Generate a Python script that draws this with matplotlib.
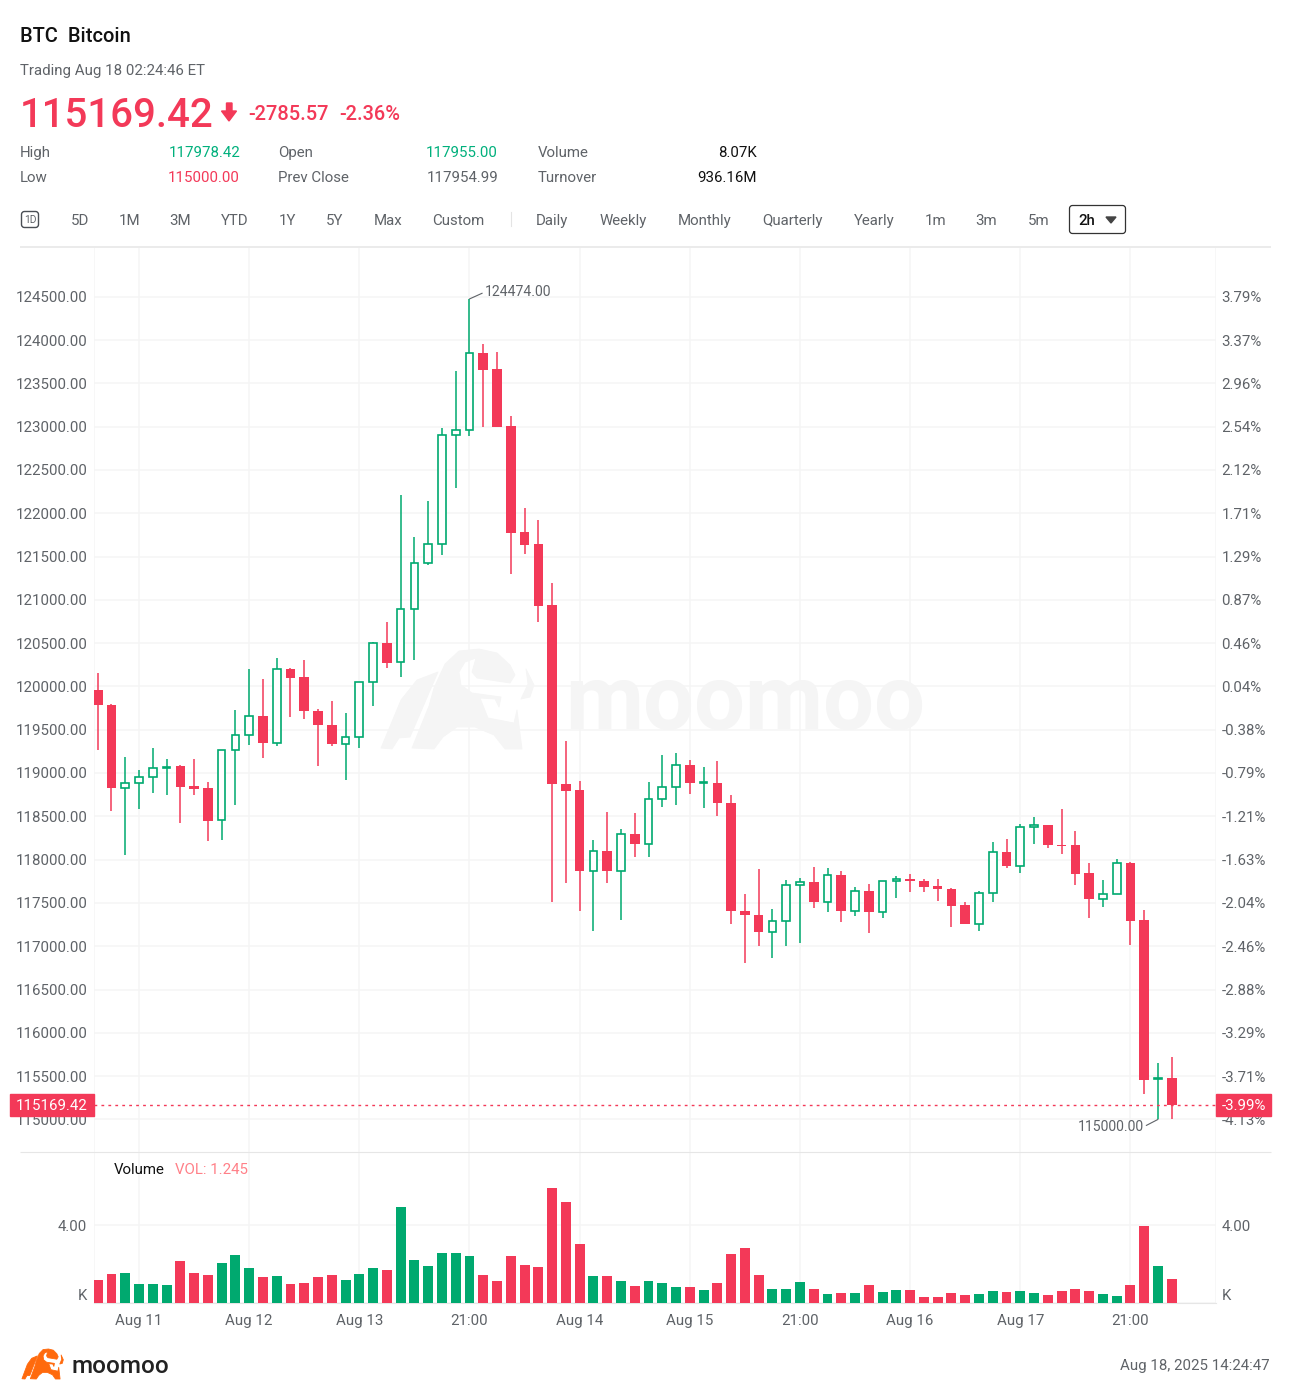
import numpy as np
import matplotlib
matplotlib.use("Agg")
import matplotlib.pyplot as plt
from matplotlib.patches import FancyBboxPatch, Polygon
from matplotlib.transforms import Affine2D

plt.rcParams["font.family"] = ["Roboto", "DejaVu Sans"]

W, H = 1291, 1398
RED = "#F33958"
GREEN = "#00A96F"
GREY = "#5F6368"
GRID = "#F5F5F5"

# one candle per 2h
opens = [119960, 119781, 118828, 118890, 118952, 119057, 119076, 118851, 118823, 118458,
         119270, 119443, 119654, 119347, 120201, 120108, 119720, 119558, 119339, 119417,
         120051, 120501, 120281, 120894, 121424, 121644, 122902, 122955, 123851, 123667,
         123009, 121778, 121648, 120943, 118878, 118808, 117870, 118101, 117870, 118298,
         118185, 118704, 118839, 119093, 118880, 118889, 118658, 117412, 117366, 117169,
         117289, 117708, 117743, 117512, 117827, 117401, 117643, 117393, 117754, 117781,
         117758, 117697, 117666, 117470, 117262, 117612, 118085, 117931, 118374, 118405,
         118171, 118163, 117847, 117547, 117605, 117966, 117300, 115466, 115482]
closes = [119780, 118828, 118890, 118952, 119057, 119072, 118843, 118817, 118450, 119270,
          119443, 119654, 119347, 120196, 120100, 119712, 119550, 119335, 119417, 120051,
          120501, 120274, 120894, 121424, 121644, 122905, 122955, 123848, 123659, 122997,
          121766, 121636, 120932, 118870, 118797, 117870, 118096, 117866, 118293, 118182,
          118704, 118839, 119088, 118880, 118892, 118650, 117401, 117358, 117162, 117289,
          117708, 117743, 117508, 117819, 117401, 117639, 117393, 117758, 117777, 117750,
          117689, 117658, 117462, 117258, 117616, 118085, 117924, 118374, 118397, 118163,
          118155, 117836, 117547, 117605, 117963, 117293, 115458, 115477, 115169.42]
highs = [120155, 119800, 119186, 119029, 119283, 119163, 119092, 119163, 118901, 119270,
         119724, 120201, 120081, 120333, 120208, 120309, 119740, 119835, 119694, 120051,
         120512, 120738, 122209, 121728, 122140, 122982, 123644, 124474, 123952, 123863,
         123128, 122055, 121924, 121193, 119373, 118912, 118228, 118546, 118358, 118539,
         118901, 119208, 119231, 119155, 119070, 119143, 118746, 117605, 117891, 117424,
         117761, 117789, 117916, 117904, 117866, 117685, 117720, 117758, 117816, 117839,
         117777, 117781, 117674, 117512, 117639, 118200, 118239, 118413, 118493, 118405,
         118586, 118331, 117963, 117761, 118009, 117978, 117420, 115654, 115724]
lows = [119260, 118566, 118051, 118589, 118770, 118750, 118427, 118743, 118212, 118227,
        118635, 119320, 119174, 119308, 119647, 119624, 119077, 119308, 118920, 119290,
        119770, 120208, 120104, 120308, 121397, 121520, 122293, 122897, 122994, 122997,
        121298, 121532, 120739, 117512, 117730, 117409, 117170, 117727, 117305, 118031,
        118031, 118604, 118627, 118759, 118601, 118508, 117262, 116809, 116999, 116867,
        116999, 117039, 117439, 117392, 117278, 117347, 117147, 117331, 117551, 117623,
        117631, 117524, 117219, 117254, 117174, 117508, 117901, 117847, 118181, 118136,
        118062, 117704, 117327, 117454, 117597, 117019, 115297, 115000, 115008]
volumes = [1.18, 1.52, 1.57, 0.99, 0.99, 0.94, 2.17, 1.54, 1.44, 2.09,
           2.48, 1.79, 1.33, 1.38, 0.99, 1.04, 1.33, 1.44, 1.21, 1.50,
           1.79, 1.73, 4.94, 2.24, 1.93, 2.58, 2.56, 2.41, 1.44, 1.13,
           2.41, 1.95, 1.85, 5.91, 5.20, 3.04, 1.42, 1.38, 1.13, 0.89,
           1.13, 1.04, 0.84, 0.82, 0.67, 1.03, 2.55, 2.82, 1.44, 0.74,
           0.72, 1.08, 0.72, 0.50, 0.51, 0.51, 0.92, 0.60, 0.68, 0.67,
           0.32, 0.32, 0.51, 0.41, 0.46, 0.63, 0.58, 0.62, 0.55, 0.41,
           0.63, 0.75, 0.62, 0.46, 0.38, 0.92, 3.98, 1.91, 1.245]

price_ticks = [124500, 124000, 123500, 123000, 122500, 122000, 121500, 121000, 120500, 120000,
               119500, 119000, 118500, 118000, 117500, 117000, 116500, 116000, 115500, 115000]
pct_labels = ["3.79%", "3.37%", "2.96%", "2.54%", "2.12%", "1.71%", "1.29%", "0.87%", "0.46%", "0.04%",
              "-0.38%", "-0.79%", "-1.21%", "-1.63%", "-2.04%", "-2.46%", "-2.88%", "-3.29%", "-3.71%", "-4.13%"]
date_ticks = [3, 11, 19, 27, 35, 43, 51, 59, 67, 75]
date_labels = ["Aug 11", "Aug 12", "Aug 13", "21:00", "Aug 14", "Aug 15", "21:00", "Aug 16", "Aug 17", "21:00"]

last_price = 115169.42
high_idx, low_idx = 27, 77

range_btns = [("5D", 70.5), ("1M", 118.5), ("3M", 169.5), ("YTD", 221), ("1Y", 279), ("5Y", 326), ("Max", 374),
              ("Custom", 432.5), ("Daily", 536), ("Weekly", 599.5), ("Monthly", 678), ("Quarterly", 762.5),
              ("Yearly", 854), ("1m", 925), ("3m", 975.5), ("5m", 1027.5)]

# bull mark, traced from the watermark, in screen pixels
BULL = [
    [(381, 748), (401, 700), (417, 680), (438, 672), (410, 737), (399, 738), (392, 749)],
    [(412, 748), (429, 706), (434, 688), (445, 664), (459, 651), (479, 649), (497, 653), (510, 665), (515, 675),
     (510, 683), (477, 678), (472, 672), (476, 658), (465, 662), (459, 672), (461, 685), (472, 693), (501, 697),
     (499, 707), (495, 699), (480, 698), (488, 718), (514, 723), (517, 710), (522, 749), (505, 749), (494, 735),
     (475, 727), (457, 727), (443, 737), (434, 749)],
    [(526, 669), (534, 685), (530, 697), (521, 699), (528, 684)],
]

# screen pixels with the origin at the top left
px = Affine2D().scale(1, -1).translate(0, H)


def label(fig, x, y, s, size=10.8, color=GREY, ha="left", weight="normal", zorder=5):
    return fig.text(x, y, s, transform=px, fontsize=size, color=color, ha=ha, va="baseline",
                    weight=weight, zorder=zorder)


def draw_bull(artist_add, scale_x, scale_y, x0, y0, color, zorder, clip=False):
    for shape in BULL:
        pts = [(x0 + (a - 381) * scale_x, y0 + (b - 649) * scale_y) for a, b in shape]
        artist_add(Polygon(pts, closed=True, transform=px, facecolor=color, edgecolor=color,
                           lw=0.6, joinstyle="round", zorder=zorder, clip_on=clip))


def draw_header(fig):
    label(fig, 20, 42, "BTC  Bitcoin", size=14.4, color="#111111", weight="medium")
    label(fig, 20, 75, "Trading Aug 18 02:24:46 ET", color=GREY)
    label(fig, 20, 127, "115169.42", size=29.0, color=RED, weight="medium")
    fig.add_artist(Polygon([(226.5, 103), (232, 103), (232, 111), (236.5, 111), (229, 121), (221.5, 111), (226.5, 111)],
                           closed=True, transform=px, color=RED))
    label(fig, 248, 120, "-2785.57", size=14.4, color=RED, weight="medium")
    label(fig, 339.5, 120, "-2.36%", size=14.4, color=RED, weight="medium")

    label(fig, 20, 157, "High")
    label(fig, 20, 182, "Low")
    label(fig, 240, 157, "117978.42", color="#00B07C", ha="right")
    label(fig, 240, 182, "115000.00", color=RED, ha="right")
    label(fig, 278.5, 157, "Open")
    label(fig, 278.5, 182, "Prev Close")
    label(fig, 498, 157, "117955.00", color="#00B07C", ha="right")
    label(fig, 498, 182, "117954.99", ha="right")
    label(fig, 537.5, 157, "Volume")
    label(fig, 537.5, 182, "Turnover")
    label(fig, 757, 157, "8.07K", color="#111111", ha="right")
    label(fig, 757, 182, "936.16M", color="#111111", ha="right")

    # toolbar
    fig.add_artist(FancyBboxPatch((21.5, 211.5), 17, 16, boxstyle="round,pad=0,rounding_size=3", transform=px,
                                  facecolor="white", edgecolor="#4A4F55", lw=1))
    label(fig, 30, 223, "1D", size=7.4, ha="center")
    for name, x in range_btns:
        label(fig, x, 225, name)
    fig.add_artist(plt.Line2D([510.5, 510.5], [212, 226], transform=px, color="#E4E4E4", lw=0.8))
    fig.add_artist(FancyBboxPatch((1069.5, 205.5), 56, 28, boxstyle="round,pad=0,rounding_size=3", transform=px,
                                  facecolor="white", edgecolor="#333333", lw=0.9))
    label(fig, 1078.5, 225, "2h", color="#111111", weight="medium")
    fig.add_artist(Polygon([(1106, 217), (1116, 217), (1111, 223)], closed=True, transform=px, color="#444444"))

    fig.add_artist(plt.Line2D([20, 1271], [247, 247], transform=px, color="#EBEBEB", lw=1.4,
                              solid_capstyle="butt"))
    fig.add_artist(plt.Line2D([20, 1271], [1152, 1152], transform=px, color="#E6E6E6", lw=0.8,
                              solid_capstyle="butt"))


def draw_candles(ax):
    x = np.arange(len(opens))
    o = np.array(opens)
    c = np.array(closes)
    up = c >= o
    wick_color = np.where(up, GREEN, RED)
    ax.vlines(x, lows, highs, colors=wick_color, lw=1.1, zorder=2)
    ax.bar(x[~up], (o - c)[~up], bottom=c[~up], width=0.70, color=RED, lw=0, zorder=3)
    ax.bar(x[up], (c - o)[up], bottom=o[up], width=0.56, facecolor="white", edgecolor=GREEN, lw=1.2, zorder=3)


def main():
    fig = plt.figure(figsize=(W / 100, H / 100), dpi=100, facecolor="white")

    left, right, top, mid, bottom = 94, 1216, 248, 1152, 1303.3
    ax = fig.add_axes([left / W, 1 - mid / H, (right - left) / W, (mid - top) / H])
    vax = fig.add_axes([left / W, 1 - bottom / H, (right - left) / W, (bottom - mid) / H])

    xlim = ((left - 97.7) / 13.77, (right - 97.7) / 13.77)
    for a in (ax, vax):
        a.set_xlim(xlim)
        a.set_axisbelow(True)
        a.grid(True, color=GRID, lw=1.1)
        for side in ("top", "left", "right", "bottom"):
            a.spines[side].set_visible(False)
        a.tick_params(length=0, labelsize=10.8, labelcolor=GREY)
        a.set_xticks(date_ticks)
    ax.tick_params(labelbottom=False)
    vax.set_xticklabels(date_labels)
    vax.tick_params(axis="x", pad=8)
    for a in (ax, vax):
        a.axvline(xlim[0], color=GRID, lw=1.1, zorder=0.5)
        a.axvline(xlim[1], color=GRID, lw=1.1, zorder=0.5)

    # price panel
    per_px = 500 / 43.3
    ax.set_ylim(124500 - (mid - 296.7) * per_px, 124500 + (296.7 - top) * per_px)
    ax.set_yticks(price_ticks)
    ax.set_yticklabels([f"{p:.2f}" for p in price_ticks])
    ax.tick_params(axis="y", pad=4.8)

    rax = ax.twinx()
    rax.set_ylim(ax.get_ylim())
    rax.set_yticks(price_ticks)
    rax.set_yticklabels(pct_labels)
    rax.tick_params(length=0, labelsize=10.8, labelcolor=GREY, pad=4)
    rax.patch.set_visible(False)
    for side in ("top", "left", "right", "bottom"):
        rax.spines[side].set_visible(False)

    # watermark
    draw_bull(ax.add_patch, 1, 1, 381, 649, GRID, 0.4)
    ax.text(565, 729, "moomoo", transform=px, fontsize=65, color=GRID, weight="bold", va="baseline", zorder=0.4)

    draw_candles(ax)

    ax.axhline(last_price, color=RED, lw=1, dashes=(2, 3), zorder=4)
    ax.annotate("124474.00", xy=(high_idx, highs[high_idx]), xytext=(15.5, 7), textcoords="offset pixels",
                fontsize=10.1, color=GREY, va="center", ha="left",
                arrowprops=dict(arrowstyle="-", color=GREY, lw=0.8, shrinkA=0, shrinkB=0, relpos=(0, 0.5)), zorder=5)
    ax.annotate("115000.00", xy=(low_idx, lows[low_idx]), xytext=(-14.5, -7.5), textcoords="offset pixels",
                fontsize=10.1, color=GREY, va="center", ha="right",
                arrowprops=dict(arrowstyle="-", color=GREY, lw=0.8, shrinkA=0, shrinkB=0, relpos=(1, 0.5)), zorder=5)

    # volume panel
    vax.set_ylim(0, (bottom - mid) / 19.5)
    colors = [GREEN if cl >= op else RED for op, cl in zip(opens, closes)]
    vax.bar(np.arange(len(volumes)), volumes, width=0.72, color=colors, lw=0, zorder=3)
    vax.set_yticks([0, 4])
    vax.set_yticklabels(["", "4.00"])
    vax.tick_params(axis="y", pad=4.8)
    vax.spines["bottom"].set_visible(True)
    vax.spines["bottom"].set_color("#E6E6E6")

    label(fig, 87, 1300, "K", ha="right")
    label(fig, 1222, 1231, "4.00")
    label(fig, 1222, 1300, "K")
    label(fig, 114, 1174, "Volume", color="#111111")
    label(fig, 175, 1174, "VOL: 1.245", color="#FF8088")

    # price tags on top of the tick labels
    y_last = 296.7 + (124500 - last_price) / per_px
    for x0, x1 in ((10, 94), (1216, 1271)):
        fig.add_artist(plt.Rectangle((x0, y_last - 11), x1 - x0, 22, transform=px, color=RED, zorder=4))
    label(fig, 52, y_last + 5.5, "115169.42", color="white", ha="center")
    label(fig, 1243.5, y_last + 5.5, "-3.99%", color="white", ha="center")

    draw_header(fig)

    # footer
    draw_bull(fig.add_artist, 0.27, 0.30, 22, 1349, "#FF6A0D", 5)
    label(fig, 71.5, 1373, "moomoo", size=17.5, color="#222222", weight="medium")
    label(fig, 1270, 1370, "Aug 18, 2025 14:24:47", ha="right")

    fig.savefig("out.png", dpi=100, facecolor="white")
    plt.close(fig)


if __name__ == "__main__":
    main()
